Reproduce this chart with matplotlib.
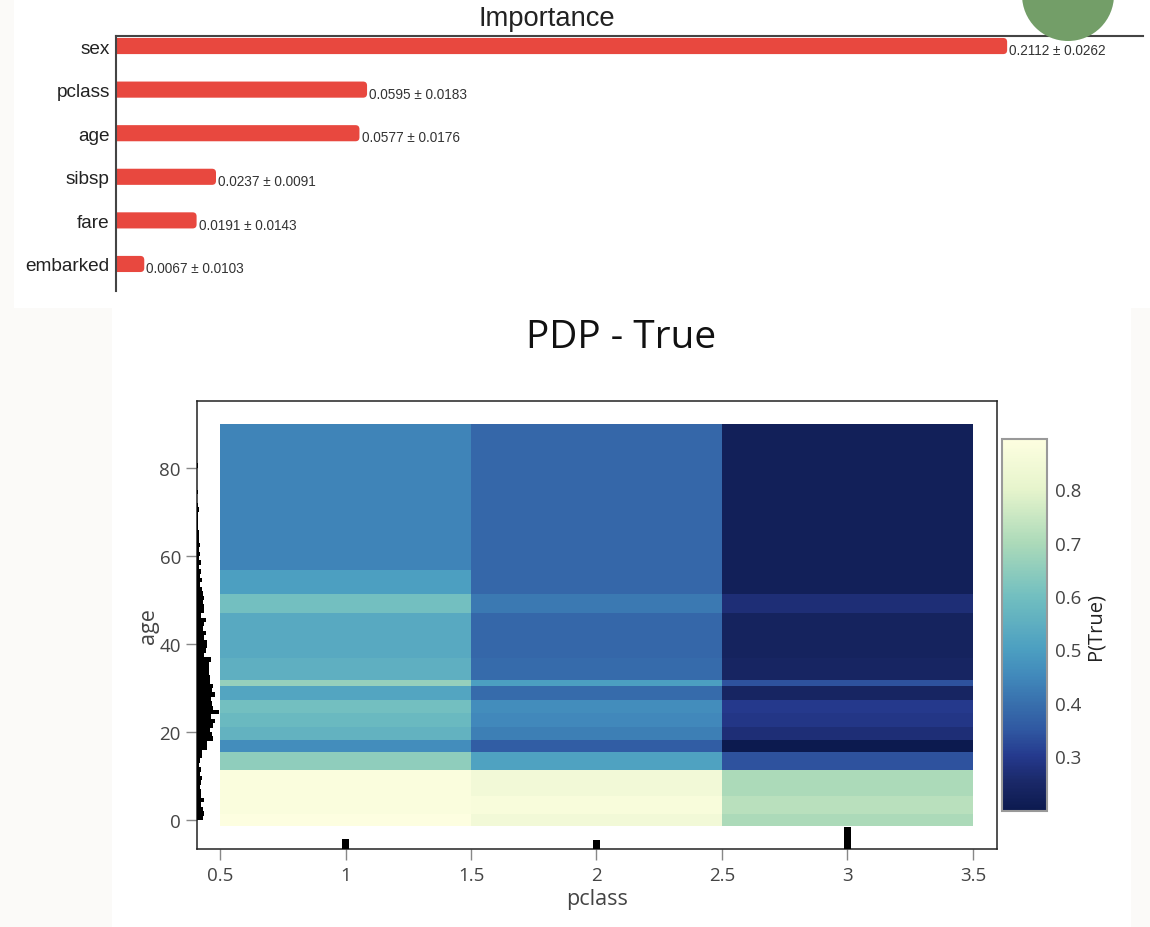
import numpy as np
import matplotlib.pyplot as plt
from matplotlib.patches import Rectangle, Ellipse, FancyBboxPatch
from matplotlib.colors import LinearSegmentedColormap

W, H = 1150, 928

# permutation importance
features = ['sex', 'pclass', 'age', 'sibsp', 'fare', 'embarked']
importance = [0.2112, 0.0595, 0.0577, 0.0237, 0.0191, 0.0067]
importance_std = [0.0262, 0.0183, 0.0176, 0.0091, 0.0143, 0.0103]

# PDP grid: pclass bins x age bins (age bins bottom to top)
pclass_edges = [0.5, 1.5, 2.5, 3.5]
age_edges = [-1.3, 1.4, 5.5, 11.4, 15.5, 18.2, 21.1, 24.3, 27.3, 30.4,
             31.7, 36.8, 47.0, 51.4, 56.7, 90.0]
p_class1 = [0.894, 0.88, 0.88, 0.65, 0.46, 0.56, 0.58, 0.60, 0.52, 0.66,
            0.55, 0.53, 0.60, 0.50, 0.44]
p_class2 = [0.85, 0.87, 0.85, 0.51, 0.36, 0.43, 0.45, 0.46, 0.39, 0.50,
            0.39, 0.38, 0.42, 0.38, 0.38]
p_class3 = [0.70, 0.72, 0.70, 0.34, 0.197, 0.27, 0.29, 0.30, 0.24, 0.34,
            0.24, 0.23, 0.27, 0.22, 0.22]

# marginal distributions (1-year age bins starting at 0)
age_counts = [8, 9, 8, 6, 9, 5, 5, 4, 5, 7,
              4, 5, 3, 4, 7, 7, 14, 13, 22, 20,
              18, 22, 24, 19, 30, 22, 20, 19, 24, 21,
              22, 18, 18, 16, 16, 17, 19, 10, 12, 13,
              13, 9, 12, 8, 10, 12, 6, 10, 10, 8,
              10, 8, 7, 4, 7, 4, 5, 3, 5, 3,
              4, 3, 4, 3, 3, 3, 2, 1, 1, 1,
              3, 2, 0, 0, 1, 0, 0, 0, 0, 0, 1]
pclass_values = [1, 2, 3]
pclass_counts = [230, 205, 491]

# colour scale as it appears in the screenshot (YlGnBu, dark -> light)
scale_colors = ['#0c1a4f', '#1a2868', '#253a8e', '#3059a2', '#3870ad', '#4189bb',
                '#4c9fc1', '#72bfc0', '#acdab9', '#e6f4cc', '#fdfee0']
scale_stops = [0.0, 0.076, 0.148, 0.22, 0.29, 0.363, 0.435, 0.578, 0.722, 0.865, 1.0]


def box(l, t, r, b):
    return [l / W, 1 - b / H, (r - l) / W, (b - t) / H]


fig = plt.figure(figsize=(W / 100, H / 100), dpi=100)
fig.patch.set_facecolor('#fbfaf8')
fig.add_artist(Rectangle((14 / W, 1 - 309 / H), (W - 14) / W, 309 / H,
                         transform=fig.transFigure, facecolor='white',
                         edgecolor='none', zorder=-10))
fig.add_artist(Rectangle((112 / W, 0), (1131 - 112) / W, 1 - 309 / H,
                         transform=fig.transFigure, facecolor='white',
                         edgecolor='none', zorder=-10))

# ---- top: importance bars ----
sans = 'Liberation Sans'
ax1 = fig.add_axes(box(116, 37, 1143, 292))
ax1.set_facecolor('none')
ax1.set_xlim(0, 0.2434)
ax1.set_ylim(5.62, -0.23)
ypos = np.arange(len(features))
bar_h = 0.37
# rounded right ends: radius of ~4 px in both directions
rx = 4 * 0.2434 / 1027
asp = (4 * 5.85 / 255) / rx
for i, v in enumerate(importance):
    p = FancyBboxPatch((-rx, i - bar_h / 2), v + rx, bar_h,
                       boxstyle=f'round,pad=0,rounding_size={rx}',
                       mutation_aspect=asp, facecolor='#e8483f',
                       edgecolor='none')
    ax1.add_patch(p)
ax1.set_yticks(ypos)
ax1.set_yticklabels(features, fontsize=13.7, family=sans, color='#222')
ax1.set_xticks([])
ax1.tick_params(axis='y', length=0, pad=4.5)
for s in ['right', 'bottom']:
    ax1.spines[s].set_visible(False)
for s in ['top', 'left']:
    ax1.spines[s].set_color('#444')
    ax1.spines[s].set_linewidth(1.5)
for i, (v, e) in enumerate(zip(importance, importance_std)):
    ax1.annotate(f'{v:.4f} \u00b1 {e:.4f}', (v, i), xytext=(1.5, -3),
                 textcoords='offset points', va='center', ha='left',
                 fontsize=9.8, family=sans, color='#333')
fig.text(547 / W, 1 - 19 / H, 'Importance', ha='center', va='center',
         fontsize=19.7, family=sans, color='#222')

fig.add_artist(Ellipse((1068 / W, 1 + 4 / H), 92 / W, 92 / H,
                       transform=fig.transFigure, facecolor='#739e68',
                       edgecolor='none', zorder=10))

# ---- bottom: PDP heatmap ----
ofont = 'Open Sans'
cmap = LinearSegmentedColormap.from_list('ylgnbu_shot',
                                         list(zip(scale_stops, scale_colors)))
ax2 = fig.add_axes(box(197, 402, 997, 850))
Z = np.array([p_class1, p_class2, p_class3]).T
mesh = ax2.pcolormesh(pclass_edges, age_edges, Z, cmap=cmap,
                      vmin=Z.min(), vmax=Z.max())
ax2.set_xlim(0.408, 3.596)
ax2.set_ylim(-6.6, 95.2)
ax2.set_xticks([0.5, 1, 1.5, 2, 2.5, 3, 3.5])
ax2.set_xticklabels(['0.5', '1', '1.5', '2', '2.5', '3', '3.5'])
ax2.set_yticks([0, 20, 40, 60, 80])
ax2.tick_params(direction='out', length=8, width=1, color='#888',
                labelcolor='#444', labelsize=13.5)
ax2.tick_params(axis='x', pad=4.3)
ax2.tick_params(axis='y', pad=3.6)
for lab in ax2.get_xticklabels() + ax2.get_yticklabels():
    lab.set_family(ofont)
for s in ax2.spines.values():
    s.set_color('#222')
    s.set_linewidth(1.1)
ax2.set_xlabel('pclass', fontsize=15.5, family=ofont, color='#444')
ax2.set_ylabel('age', fontsize=15.5, family=ofont, color='#444')
ax2.xaxis.set_label_coords(0.5, -(900 - 850) / 448)
ax2.yaxis.set_label_coords((148 - 197) / 800, 0.5)
ax2.xaxis.label.set_va('center')
ax2.yaxis.label.set_va('center')

# age histogram along the left edge
ax_h = ax2.twiny()
ax_h.barh(np.arange(len(age_counts)), age_counts, height=1, align='edge',
          color='black')
ax_h.set_xlim(0, 30 * 800 / 22)
ax_h.axis('off')

# pclass counts along the bottom edge
ax_r = ax2.twinx()
ax_r.bar(pclass_values, pclass_counts, width=0.025, color='black')
ax_r.set_ylim(0, 491 * 448 / 22)
ax_r.axis('off')

fig.text(621 / W, 1 - 338 / H, 'PDP - True', ha='center', va='center',
         fontsize=28, family=ofont, color='#111')

cax = fig.add_axes(box(1002, 440, 1047, 812))
cb = fig.colorbar(mesh, cax=cax)
cb.set_ticks([0.3, 0.4, 0.5, 0.6, 0.7, 0.8])
cb.outline.set_edgecolor('#999')
cb.outline.set_linewidth(1.5)
cax.tick_params(length=0, labelsize=13.5, labelcolor='#444', pad=5.8)
for lab in cax.get_yticklabels():
    lab.set_family(ofont)
cb.set_label('P(True)', rotation=90, fontsize=14.5, family=ofont,
             color='#222', labelpad=3)

fig.savefig('out.png', dpi=100, facecolor=fig.get_facecolor())
